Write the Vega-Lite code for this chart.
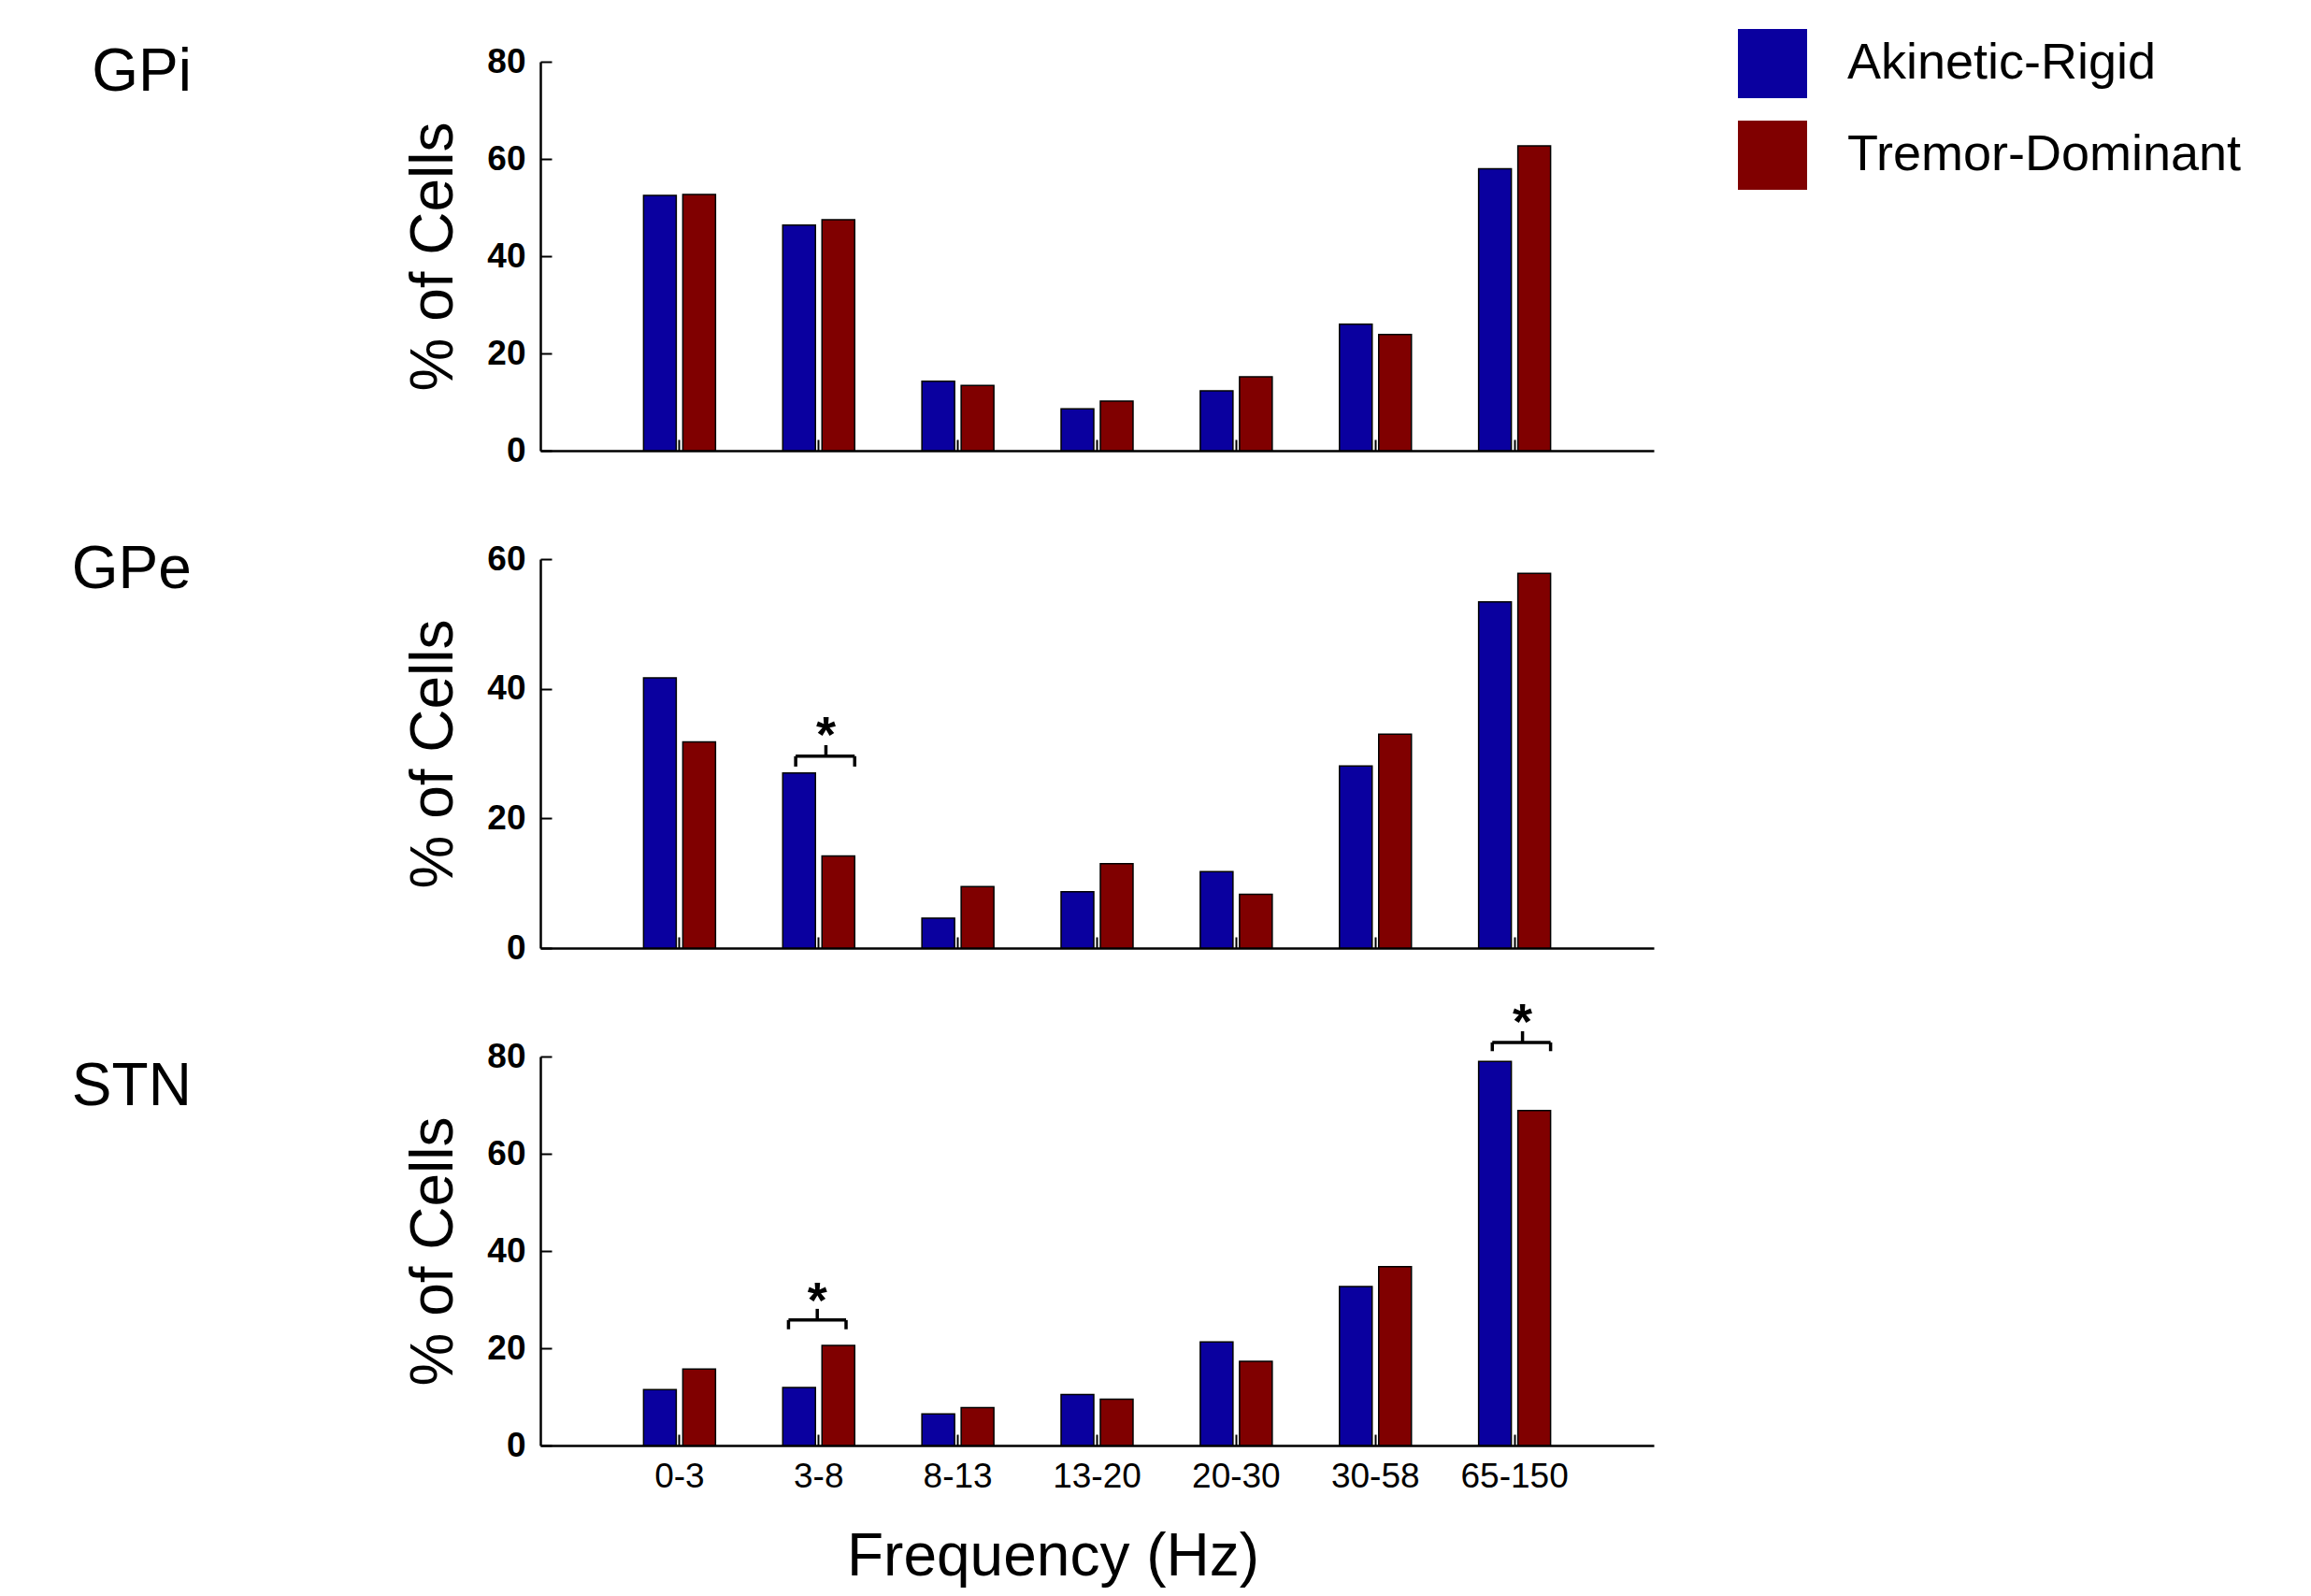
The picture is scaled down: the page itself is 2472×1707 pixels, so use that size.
{
  "$schema": "https://vega.github.io/schema/vega-lite/v6.json",
  "background": "white",
  "padding": {"left": 76, "top": 31, "right": 5, "bottom": 5},
  "bounds": "flush",
  "spacing": 116,
  "config": {
    "view": {"stroke": null},
    "font": "Liberation Sans",
    "axis": {"grid": false, "domainColor": "black", "tickColor": "black", "labelColor": "black", "titleColor": "black", "domainWidth": 2.5, "tickWidth": 2, "labelFont": "Liberation Sans", "titleFont": "Liberation Sans"},
    "axisY": {"tickSize": -12, "labelPadding": 28, "labelFontSize": 37, "labelFontWeight": "bold", "titleFontSize": 64, "titleFontWeight": "normal", "titlePadding": 24},
    "axisX": {"tickSize": -12},
    "title": {"color": "black", "font": "Liberation Sans", "fontWeight": "normal", "fontSize": 64},
    "legend": {"orient": "none", "legendX": 1281, "legendY": -35, "direction": "vertical", "symbolType": "square", "symbolSize": 5476, "symbolStrokeWidth": 0, "labelFontSize": 54, "labelOffset": 43, "rowPadding": 24, "labelFont": "Liberation Sans", "labelColor": "black", "labelLimit": 800}
  },
  "datasets": {
    "bars": [
      {"region": "GPi", "freq": "0-3", "group": "Akinetic-Rigid", "pct": 52.5},
      {"region": "GPi", "freq": "0-3", "group": "Tremor-Dominant", "pct": 52.7},
      {"region": "GPi", "freq": "3-8", "group": "Akinetic-Rigid", "pct": 46.4},
      {"region": "GPi", "freq": "3-8", "group": "Tremor-Dominant", "pct": 47.5},
      {"region": "GPi", "freq": "8-13", "group": "Akinetic-Rigid", "pct": 14.3},
      {"region": "GPi", "freq": "8-13", "group": "Tremor-Dominant", "pct": 13.4},
      {"region": "GPi", "freq": "13-20", "group": "Akinetic-Rigid", "pct": 8.6},
      {"region": "GPi", "freq": "13-20", "group": "Tremor-Dominant", "pct": 10.2},
      {"region": "GPi", "freq": "20-30", "group": "Akinetic-Rigid", "pct": 12.3},
      {"region": "GPi", "freq": "20-30", "group": "Tremor-Dominant", "pct": 15.2},
      {"region": "GPi", "freq": "30-58", "group": "Akinetic-Rigid", "pct": 26.0},
      {"region": "GPi", "freq": "30-58", "group": "Tremor-Dominant", "pct": 23.9},
      {"region": "GPi", "freq": "65-150", "group": "Akinetic-Rigid", "pct": 58.0},
      {"region": "GPi", "freq": "65-150", "group": "Tremor-Dominant", "pct": 62.7},
      {"region": "GPe", "freq": "0-3", "group": "Akinetic-Rigid", "pct": 41.7},
      {"region": "GPe", "freq": "0-3", "group": "Tremor-Dominant", "pct": 31.8},
      {"region": "GPe", "freq": "3-8", "group": "Akinetic-Rigid", "pct": 27.0},
      {"region": "GPe", "freq": "3-8", "group": "Tremor-Dominant", "pct": 14.2},
      {"region": "GPe", "freq": "8-13", "group": "Akinetic-Rigid", "pct": 4.6},
      {"region": "GPe", "freq": "8-13", "group": "Tremor-Dominant", "pct": 9.5},
      {"region": "GPe", "freq": "13-20", "group": "Akinetic-Rigid", "pct": 8.7},
      {"region": "GPe", "freq": "13-20", "group": "Tremor-Dominant", "pct": 13.0},
      {"region": "GPe", "freq": "20-30", "group": "Akinetic-Rigid", "pct": 11.8},
      {"region": "GPe", "freq": "20-30", "group": "Tremor-Dominant", "pct": 8.3},
      {"region": "GPe", "freq": "30-58", "group": "Akinetic-Rigid", "pct": 28.1},
      {"region": "GPe", "freq": "30-58", "group": "Tremor-Dominant", "pct": 33.0},
      {"region": "GPe", "freq": "65-150", "group": "Akinetic-Rigid", "pct": 53.4},
      {"region": "GPe", "freq": "65-150", "group": "Tremor-Dominant", "pct": 57.8},
      {"region": "STN", "freq": "0-3", "group": "Akinetic-Rigid", "pct": 11.5},
      {"region": "STN", "freq": "0-3", "group": "Tremor-Dominant", "pct": 15.7},
      {"region": "STN", "freq": "3-8", "group": "Akinetic-Rigid", "pct": 11.9},
      {"region": "STN", "freq": "3-8", "group": "Tremor-Dominant", "pct": 20.6},
      {"region": "STN", "freq": "8-13", "group": "Akinetic-Rigid", "pct": 6.5},
      {"region": "STN", "freq": "8-13", "group": "Tremor-Dominant", "pct": 7.8},
      {"region": "STN", "freq": "13-20", "group": "Akinetic-Rigid", "pct": 10.5},
      {"region": "STN", "freq": "13-20", "group": "Tremor-Dominant", "pct": 9.5},
      {"region": "STN", "freq": "20-30", "group": "Akinetic-Rigid", "pct": 21.3},
      {"region": "STN", "freq": "20-30", "group": "Tremor-Dominant", "pct": 17.3},
      {"region": "STN", "freq": "30-58", "group": "Akinetic-Rigid", "pct": 32.7},
      {"region": "STN", "freq": "30-58", "group": "Tremor-Dominant", "pct": 36.8},
      {"region": "STN", "freq": "65-150", "group": "Akinetic-Rigid", "pct": 79.0},
      {"region": "STN", "freq": "65-150", "group": "Tremor-Dominant", "pct": 68.9}
    ],
    "sig": [
      {"region": "GPe", "freq": "3-8", "yb": 29.6, "ylow": 28.0, "ytop": 31.3, "ystar": 30.3, "label": "*"},
      {"region": "STN", "freq": "3-8", "yb": 25.8, "ylow": 23.9, "ytop": 28.1, "ystar": 26.4, "label": "*"},
      {"region": "STN", "freq": "65-150", "yb": 82.9, "ylow": 81.1, "ytop": 85.2, "ystar": 83.6, "label": "*"}
    ]
  },
  "vconcat": [
    {
      "width": 1191,
      "height": 416,
      "title": {"text": "GPi", "orient": "left", "anchor": "end", "frame": "group", "angle": 0, "align": "left", "baseline": "top", "offset": 228, "dy": -20},
      "layer": [
        {
          "data": {"name": "bars"},
          "transform": [{"filter": "datum.region === 'GPi'"}],
          "mark": {"type": "bar", "stroke": "black", "strokeWidth": 1.5},
          "encoding": {
            "x": {"field": "freq", "type": "nominal", "scale": {"domain": ["0-3", "3-8", "8-13", "13-20", "20-30", "30-58", "65-150"], "paddingInner": 0.483, "paddingOuter": 0.7415}, "axis": {"title": null, "labels": false}},
            "xOffset": {"field": "group", "type": "nominal", "scale": {"domain": ["Akinetic-Rigid", "Tremor-Dominant"], "paddingInner": 0.167, "paddingOuter": 0}},
            "y": {"field": "pct", "type": "quantitative", "scale": {"domain": [0, 80]}, "axis": {"title": "% of Cells", "values": [0, 20, 40, 60, 80]}},
            "color": {"field": "group", "type": "nominal", "scale": {"domain": ["Akinetic-Rigid", "Tremor-Dominant"], "range": ["#0a009f", "#800000"]}, "legend": {"title": null}}
          }
        }
      ]
    },
    {
      "width": 1191,
      "height": 416,
      "title": {"text": "GPe", "orient": "left", "anchor": "end", "frame": "group", "angle": 0, "align": "left", "baseline": "top", "offset": 228, "dy": -20},
      "layer": [
        {
          "data": {"name": "bars"},
          "transform": [{"filter": "datum.region === 'GPe'"}],
          "mark": {"type": "bar", "stroke": "black", "strokeWidth": 1.5},
          "encoding": {
            "x": {"field": "freq", "type": "nominal", "scale": {"domain": ["0-3", "3-8", "8-13", "13-20", "20-30", "30-58", "65-150"], "paddingInner": 0.483, "paddingOuter": 0.7415}, "axis": {"title": null, "labels": false}},
            "xOffset": {"field": "group", "type": "nominal", "scale": {"domain": ["Akinetic-Rigid", "Tremor-Dominant"], "paddingInner": 0.167, "paddingOuter": 0}},
            "y": {"field": "pct", "type": "quantitative", "scale": {"domain": [0, 60]}, "axis": {"title": "% of Cells", "values": [0, 20, 40, 60]}},
            "color": {"field": "group", "type": "nominal", "scale": {"domain": ["Akinetic-Rigid", "Tremor-Dominant"], "range": ["#0a009f", "#800000"]}, "legend": {"title": null}}
          }
        },
        {
          "data": {"name": "sig"},
          "transform": [{"filter": "datum.region === 'GPe' && datum.freq === '3-8'"}],
          "mark": {"type": "rule", "color": "black", "strokeWidth": 3.5},
          "encoding": {"x": {"field": "freq", "type": "nominal", "bandPosition": 0.18}, "x2": {"field": "freq", "bandPosition": 1.0}, "y": {"field": "yb", "type": "quantitative"}}
        },
        {
          "data": {"name": "sig"},
          "transform": [{"filter": "datum.region === 'GPe' && datum.freq === '3-8'"}],
          "mark": {"type": "rule", "color": "black", "strokeWidth": 3.5},
          "encoding": {"x": {"field": "freq", "type": "nominal", "bandPosition": 0.18}, "y": {"field": "ylow", "type": "quantitative"}, "y2": {"field": "yb"}}
        },
        {
          "data": {"name": "sig"},
          "transform": [{"filter": "datum.region === 'GPe' && datum.freq === '3-8'"}],
          "mark": {"type": "rule", "color": "black", "strokeWidth": 3.5},
          "encoding": {"x": {"field": "freq", "type": "nominal", "bandPosition": 1.0}, "y": {"field": "ylow", "type": "quantitative"}, "y2": {"field": "yb"}}
        },
        {
          "data": {"name": "sig"},
          "transform": [{"filter": "datum.region === 'GPe' && datum.freq === '3-8'"}],
          "mark": {"type": "rule", "color": "black", "strokeWidth": 3.5},
          "encoding": {"x": {"field": "freq", "type": "nominal", "bandPosition": 0.6}, "y": {"field": "yb", "type": "quantitative"}, "y2": {"field": "ytop"}}
        },
        {
          "data": {"name": "sig"},
          "transform": [{"filter": "datum.region === 'GPe' && datum.freq === '3-8'"}],
          "mark": {"type": "text", "color": "black", "fontSize": 54, "fontWeight": "bold", "baseline": "alphabetic", "align": "center", "font": "Liberation Sans"},
          "encoding": {"x": {"field": "freq", "type": "nominal", "bandPosition": 0.6}, "y": {"field": "ystar", "type": "quantitative"}, "text": {"field": "label"}}
        }
      ]
    },
    {
      "width": 1191,
      "height": 416,
      "title": {"text": "STN", "orient": "left", "anchor": "end", "frame": "group", "angle": 0, "align": "left", "baseline": "top", "offset": 228, "dy": 1},
      "layer": [
        {
          "data": {"name": "bars"},
          "transform": [{"filter": "datum.region === 'STN'"}],
          "mark": {"type": "bar", "stroke": "black", "strokeWidth": 1.5},
          "encoding": {
            "x": {"field": "freq", "type": "nominal", "scale": {"domain": ["0-3", "3-8", "8-13", "13-20", "20-30", "30-58", "65-150"], "paddingInner": 0.483, "paddingOuter": 0.7415}, "axis": {"title": "Frequency (Hz)", "labelAngle": 0, "labelFontSize": 37, "labelPadding": 27, "titleFontSize": 64, "titleFontWeight": "normal", "titlePadding": 36, "titleX": 548}},
            "xOffset": {"field": "group", "type": "nominal", "scale": {"domain": ["Akinetic-Rigid", "Tremor-Dominant"], "paddingInner": 0.167, "paddingOuter": 0}},
            "y": {"field": "pct", "type": "quantitative", "scale": {"domain": [0, 80]}, "axis": {"title": "% of Cells", "values": [0, 20, 40, 60, 80]}},
            "color": {"field": "group", "type": "nominal", "scale": {"domain": ["Akinetic-Rigid", "Tremor-Dominant"], "range": ["#0a009f", "#800000"]}, "legend": {"title": null}}
          }
        },
        {
          "data": {"name": "sig"},
          "transform": [{"filter": "datum.region === 'STN' && datum.freq === '3-8'"}],
          "mark": {"type": "rule", "color": "black", "strokeWidth": 3.5},
          "encoding": {"x": {"field": "freq", "type": "nominal", "bandPosition": 0.08}, "x2": {"field": "freq", "bandPosition": 0.88}, "y": {"field": "yb", "type": "quantitative"}}
        },
        {
          "data": {"name": "sig"},
          "transform": [{"filter": "datum.region === 'STN' && datum.freq === '3-8'"}],
          "mark": {"type": "rule", "color": "black", "strokeWidth": 3.5},
          "encoding": {"x": {"field": "freq", "type": "nominal", "bandPosition": 0.08}, "y": {"field": "ylow", "type": "quantitative"}, "y2": {"field": "yb"}}
        },
        {
          "data": {"name": "sig"},
          "transform": [{"filter": "datum.region === 'STN' && datum.freq === '3-8'"}],
          "mark": {"type": "rule", "color": "black", "strokeWidth": 3.5},
          "encoding": {"x": {"field": "freq", "type": "nominal", "bandPosition": 0.88}, "y": {"field": "ylow", "type": "quantitative"}, "y2": {"field": "yb"}}
        },
        {
          "data": {"name": "sig"},
          "transform": [{"filter": "datum.region === 'STN' && datum.freq === '3-8'"}],
          "mark": {"type": "rule", "color": "black", "strokeWidth": 3.5},
          "encoding": {"x": {"field": "freq", "type": "nominal", "bandPosition": 0.48}, "y": {"field": "yb", "type": "quantitative"}, "y2": {"field": "ytop"}}
        },
        {
          "data": {"name": "sig"},
          "transform": [{"filter": "datum.region === 'STN' && datum.freq === '3-8'"}],
          "mark": {"type": "text", "color": "black", "fontSize": 54, "fontWeight": "bold", "baseline": "alphabetic", "align": "center", "font": "Liberation Sans"},
          "encoding": {"x": {"field": "freq", "type": "nominal", "bandPosition": 0.48}, "y": {"field": "ystar", "type": "quantitative"}, "text": {"field": "label"}}
        },
        {
          "data": {"name": "sig"},
          "transform": [{"filter": "datum.region === 'STN' && datum.freq === '65-150'"}],
          "mark": {"type": "rule", "color": "black", "strokeWidth": 3.5},
          "encoding": {"x": {"field": "freq", "type": "nominal", "bandPosition": 0.19}, "x2": {"field": "freq", "bandPosition": 1.0}, "y": {"field": "yb", "type": "quantitative"}}
        },
        {
          "data": {"name": "sig"},
          "transform": [{"filter": "datum.region === 'STN' && datum.freq === '65-150'"}],
          "mark": {"type": "rule", "color": "black", "strokeWidth": 3.5},
          "encoding": {"x": {"field": "freq", "type": "nominal", "bandPosition": 0.19}, "y": {"field": "ylow", "type": "quantitative"}, "y2": {"field": "yb"}}
        },
        {
          "data": {"name": "sig"},
          "transform": [{"filter": "datum.region === 'STN' && datum.freq === '65-150'"}],
          "mark": {"type": "rule", "color": "black", "strokeWidth": 3.5},
          "encoding": {"x": {"field": "freq", "type": "nominal", "bandPosition": 1.0}, "y": {"field": "ylow", "type": "quantitative"}, "y2": {"field": "yb"}}
        },
        {
          "data": {"name": "sig"},
          "transform": [{"filter": "datum.region === 'STN' && datum.freq === '65-150'"}],
          "mark": {"type": "rule", "color": "black", "strokeWidth": 3.5},
          "encoding": {"x": {"field": "freq", "type": "nominal", "bandPosition": 0.61}, "y": {"field": "yb", "type": "quantitative"}, "y2": {"field": "ytop"}}
        },
        {
          "data": {"name": "sig"},
          "transform": [{"filter": "datum.region === 'STN' && datum.freq === '65-150'"}],
          "mark": {"type": "text", "color": "black", "fontSize": 54, "fontWeight": "bold", "baseline": "alphabetic", "align": "center", "font": "Liberation Sans"},
          "encoding": {"x": {"field": "freq", "type": "nominal", "bandPosition": 0.61}, "y": {"field": "ystar", "type": "quantitative"}, "text": {"field": "label"}}
        }
      ]
    }
  ]
}
